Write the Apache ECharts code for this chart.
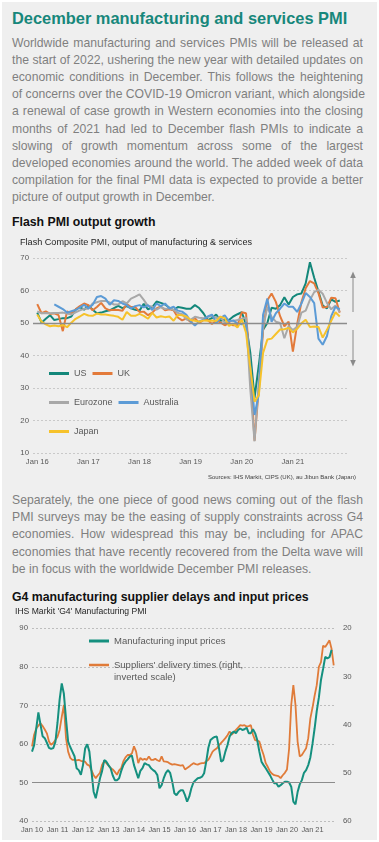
<!DOCTYPE html>
<html><head><meta charset="utf-8">
<script src="https://cdn.jsdelivr.net/npm/echarts@6/dist/echarts.min.js"></script>
<style>
html,body{margin:0;padding:0;background:#fff;width:379px;height:842px;overflow:hidden;font-family:"Liberation Sans",Arial,sans-serif;}
#panel{position:absolute;left:2px;top:2px;width:375px;height:838px;background:#efefef;}
.title{position:absolute;left:12px;top:8px;font-size:16.4px;line-height:20px;font-weight:bold;color:#17877b;white-space:nowrap;}
.para{position:absolute;left:12px;width:351px;font-size:12.2px;color:#7f7f7f;}
.para div{height:17.2px;line-height:17.2px;text-align:justify;text-align-last:justify;white-space:nowrap;}
.para div.last{text-align-last:left;}
.h2{position:absolute;left:12px;font-size:12.3px;line-height:16px;font-weight:bold;color:#111;white-space:nowrap;}
#c1{position:absolute;left:0;top:236px;width:379px;height:250px;}
#c2{position:absolute;left:0;top:603px;width:379px;height:239px;}
</style></head>
<body>
<div id="panel"></div>
<div class="title">December manufacturing and services PMI</div>
<div class="para" style="top:34.7px">
<div>Worldwide manufacturing and services PMIs will be released at</div>
<div>the start of 2022, ushering the new year with detailed updates on</div>
<div>economic conditions in December. This follows the heightening</div>
<div>of concerns over the COVID-19 Omicron variant, which alongside</div>
<div>a renewal of case growth in Western economies into the closing</div>
<div>months of 2021 had led to December flash PMIs to indicate a</div>
<div>slowing of growth momentum across some of the largest</div>
<div>developed economies around the world. The added week of data</div>
<div>compilation for the final PMI data is expected to provide a better</div>
<div class="last">picture of output growth in December.</div>
</div>
<div class="h2" style="top:213.7px">Flash PMI output growth</div>
<div id="c1"></div>
<div class="para" style="top:492px">
<div>Separately, the one piece of good news coming out of the flash</div>
<div>PMI surveys may be the easing of supply constraints across G4</div>
<div>economies. How widespread this may be, including for APAC</div>
<div>economies that have recently recovered from the Delta wave will</div>
<div class="last">be in focus with the worldwide December PMI releases.</div>
</div>
<div class="h2" style="top:589px">G4 manufacturing supplier delays and input prices</div>
<div id="c2"></div>
<script>
// ---------- Chart 1 data: monthly Jan 2016 - Dec 2021 ----------
const yearLabels1 = ['Jan 16','Jan 17','Jan 18','Jan 19','Jan 20','Jan 21'];
const us = [
 53.2,50.1,51.3,52.4,50.9,51.2,51.5,51.5,52.0,54.1,54.9,54.1,
 55.4,54.1,53.0,53.2,53.6,53.9,54.6,55.3,54.6,55.2,54.5,54.1,
 53.8,55.9,54.2,54.9,56.6,56.2,55.7,54.7,53.9,54.9,54.7,54.4,
 54.4,55.5,54.6,53.0,50.9,51.5,52.6,50.7,51.0,50.9,52.0,52.7,
 53.3,49.6,40.9,27.0,37.0,47.9,50.0,54.7,54.4,55.5,57.9,55.7,
 58.0,58.8,59.1,62.2,68.7,63.9,59.7,55.4,54.5,57.3,56.5,56.9];
const uk = [
 55.8,53.0,53.6,52.8,53.0,52.4,47.5,53.6,52.9,54.2,55.2,56.0,
 55.5,53.9,54.9,56.2,54.5,53.9,54.1,54.0,53.8,55.8,54.9,54.9,
 53.4,53.5,52.4,53.2,54.5,55.1,53.9,54.2,53.9,51.7,50.8,51.4,
 50.3,51.5,50.0,50.9,50.9,49.7,50.7,50.2,49.3,50.0,49.3,49.3,
 53.3,53.0,36.0,13.8,30.0,47.7,57.0,59.1,56.5,52.1,49.0,50.4,
 41.2,49.6,56.4,60.7,62.9,62.2,59.2,54.8,54.9,57.8,57.6,53.2];
const eurozone = [
 53.6,53.0,53.1,53.0,53.1,53.1,53.2,52.9,52.6,53.3,53.9,54.4,
 54.4,56.0,56.4,56.8,56.8,56.3,55.7,55.7,56.7,56.0,57.5,58.1,
 58.8,57.1,55.2,55.1,54.1,54.9,54.3,54.5,54.1,53.1,52.7,51.1,
 51.0,51.9,51.6,51.5,51.8,52.2,51.5,51.9,50.1,50.6,50.6,50.9,
 51.3,51.6,29.7,13.6,31.9,48.5,54.9,51.9,50.4,50.0,45.3,49.1,
 47.8,48.8,53.2,53.8,57.1,59.5,60.2,59.0,56.2,54.2,55.4,53.4];
const australia = [
 null,null,null,null,55.7,55.0,54.3,53.2,53.6,54.0,54.8,55.6,
 54.5,55.6,58.0,58.3,57.5,55.6,57.0,56.8,56.0,55.5,54.5,55.2,
 55.5,54.8,55.5,54.0,56.0,55.2,56.0,54.5,55.0,53.8,53.5,52.5,
 50.5,49.2,50.5,51.0,52.0,52.6,50.0,51.5,52.4,50.5,50.8,49.8,
 49.6,50.2,37.0,21.7,28.1,52.5,57.5,50.4,53.0,54.4,56.0,55.0,
 55.0,53.4,56.0,59.2,58.0,56.1,45.2,43.3,46.0,52.1,55.0,54.2];
const japan = [
 52.6,50.4,49.6,49.0,49.2,49.0,49.4,48.7,50.1,51.3,52.0,52.8,
 52.3,52.2,52.9,52.6,52.6,52.4,52.2,51.9,51.0,53.4,52.2,52.2,
 52.8,52.2,51.3,53.1,51.7,52.1,51.8,52.0,50.7,52.5,52.4,52.0,
 50.9,50.7,50.4,50.8,50.7,50.8,50.6,51.9,51.5,49.1,49.8,48.6,
 51.1,47.0,36.2,25.8,27.8,40.8,44.9,45.2,46.6,48.0,48.1,48.5,
 47.1,48.2,49.9,51.0,48.8,48.9,48.8,45.5,47.9,50.7,53.3,52.0];

// ---------- Chart 2 data: monthly Jan 2010 - 2021 ----------
const yearLabels2 = ['Jan 10','Jan 11','Jan 12','Jan 13','Jan 14','Jan 15','Jan 16','Jan 17','Jan 18','Jan 19','Jan 20','Jan 21'];
const inputPrices = [
 58.0,59.7,64.0,68.2,65.0,62.0,61.5,60.3,59.0,58.7,58.9,60.5,
 65.5,71.5,75.7,73.0,66.5,60.6,59.2,58.0,56.8,53.7,53.2,52.0,
 54.5,58.8,59.9,58.0,52.8,47.6,45.9,48.5,51.1,53.0,55.8,55.4,
 54.5,53.7,51.8,50.6,50.6,51.1,53.0,54.5,55.4,56.0,56.7,57.0,
 54.5,52.8,51.1,53.0,53.7,55.0,54.7,54.5,53.7,53.2,52.8,51.9,
 48.5,49.3,51.1,52.5,53.2,52.5,50.2,47.2,46.7,47.5,48.0,48.0,
 46.7,45.0,46.3,48.5,50.0,50.6,51.1,51.2,51.5,52.4,55.4,59.0,
 61.0,61.5,61.8,61.9,58.9,55.4,55.8,58.0,59.7,61.9,62.8,63.2,
 62.8,63.6,64.0,63.6,63.8,64.2,62.8,62.8,63.8,62.8,61.0,58.0,
 55.4,54.5,53.7,52.8,51.9,50.8,49.8,49.8,48.9,49.3,49.8,50.2,
 50.2,50.0,48.9,45.0,44.3,47.5,49.5,50.6,52.5,53.2,54.5,56.5,
 60.0,64.0,68.5,72.0,76.6,79.5,82.6,82.2,82.5,84.4];
const deliveryTimes = [
 44.5,42.1,40.8,40.2,39.7,40.3,41.0,41.8,43.5,44.2,43.8,43.2,
 42.5,41.1,38.4,35.9,42.8,45.6,46.9,47.3,47.3,47.4,47.3,47.5,
 47.6,47.7,48.3,48.5,49.5,50.5,51.1,50.5,50.0,48.3,47.6,48.0,
 48.5,49.0,49.3,49.8,50.4,49.5,49.0,47.6,46.8,46.3,46.3,46.0,
 44.5,45.6,48.0,46.9,47.3,47.1,47.3,46.6,47.3,47.3,47.1,47.4,
 47.6,46.6,47.6,47.7,47.8,48.1,48.3,48.2,48.3,48.4,48.5,48.4,
 49.3,49.0,48.7,48.3,48.0,48.2,48.3,48.1,48.0,48.0,47.6,47.3,
 46.5,45.6,45.2,44.9,44.3,43.8,43.3,42.8,42.2,41.4,42.1,41.6,
 41.1,40.6,40.1,40.2,40.1,40.4,40.3,40.1,42.1,43.2,43.3,43.5,
 45.0,46.3,48.0,48.8,49.7,50.2,50.5,50.6,50.7,51.1,50.5,50.0,
 49.3,45.0,35.9,31.8,35.9,43.5,46.6,46.3,45.6,44.9,42.8,38.7,
 36.5,34.0,31.8,28.0,27.0,23.6,23.9,23.2,22.5,24.3,27.7];

const FONT = 'Liberation Sans';
const pairs = arr => arr.map((v, i) => [i, v]);

// ---------- Chart 1 ----------
const c1 = echarts.init(document.getElementById('c1'), null, {renderer: 'canvas'});
const colors1 = {US:'#13877a', UK:'#e37a3a', Eurozone:'#a8a8a8', Australia:'#5c9bd6', Japan:'#f6c22b'};
function line1(name, data) {
  return {name, type:'line', data: pairs(data), showSymbol:false, symbol:'none',
    connectNulls:false, lineStyle:{width:2, color:colors1[name]}, itemStyle:{color:colors1[name]}, z:3};
}
const legendBase = {padding:0, itemWidth:20, itemHeight:3, icon:'rect', itemGap:6, orient:'horizontal',
  textStyle:{fontFamily:FONT, fontSize:9, color:'#595959', width:45}};
c1.setOption({
  animation:false,
  textStyle:{fontFamily:FONT},
  title:[
    {text:'Flash Composite PMI, output of manufacturing & services', left:20, top:2, padding:0,
     textStyle:{fontFamily:FONT, fontSize:9.1, fontWeight:'normal', color:'#1f1f1f'}},
    {text:'Sources: IHS Markit, CIPS (UK), au Jibun Bank (Japan)', right:23, top:238, padding:0,
     textStyle:{fontFamily:FONT, fontSize:6, fontWeight:'normal', color:'#404040'}}
  ],
  grid:{left:33, right:32, top:22, height:195, containLabel:false},
  legend:[
    Object.assign({}, legendBase, {data:['US','UK'], left:49, top:133}),
    Object.assign({}, legendBase, {data:['Eurozone','Australia'], left:49, top:162}),
    Object.assign({}, legendBase, {data:['Japan'], left:49, top:191})
  ],
  xAxis:{type:'value', min:-1, max:72.7,
    axisLine:{show:false}, axisTick:{show:false}, splitLine:{show:false},
    axisLabel:{customValues:[0,12,24,36,48,60], formatter:v => yearLabels1[Math.round(v/12)],
      fontFamily:FONT, fontSize:7.6, color:'#595959', margin:5}},
  yAxis:{type:'value', min:10, max:70, interval:10,
    axisLine:{show:false}, axisTick:{show:false},
    axisLabel:{fontFamily:FONT, fontSize:7.8, color:'#595959', margin:4},
    splitLine:{lineStyle:{color:'#c9c9c9', type:[2,2], width:1}}},
  graphic:[
    {type:'line', shape:{x1:353, y1:76, x2:353, y2:40}, style:{stroke:'#8a8a8a', lineWidth:1}},
    {type:'polygon', shape:{points:[[350.2,42],[355.8,42],[353,35.5]]}, style:{fill:'#8a8a8a'}},
    {type:'line', shape:{x1:353, y1:94, x2:353, y2:126}, style:{stroke:'#8a8a8a', lineWidth:1}},
    {type:'polygon', shape:{points:[[350.2,124],[355.8,124],[353,130.5]]}, style:{fill:'#8a8a8a'}}
  ],
  series:[
    Object.assign(line1('US', us), {markLine:{silent:true, symbol:'none', label:{show:false},
      lineStyle:{color:'#8c8c8c', type:'solid', width:1.3}, data:[{yAxis:50}]}}),
    line1('UK', uk),
    line1('Eurozone', eurozone),
    line1('Australia', australia),
    line1('Japan', japan)
  ]
});

// ---------- Chart 2 ----------
const c2 = echarts.init(document.getElementById('c2'), null, {renderer: 'canvas'});
const teal = '#15907f', orange = '#e07b39';
c2.setOption({
  animation:false,
  textStyle:{fontFamily:FONT},
  title:{text:"IHS Markit 'G4' Manufacturing PMI", left:15, top:4.5, padding:0,
    textStyle:{fontFamily:FONT, fontSize:8.6, fontWeight:'normal', color:'#1f1f1f'}},
  grid:{left:32, right:44, top:25.3, height:192.7, containLabel:false},
  legend:[
    {data:['Manufacturing input prices'], left:89, top:33, padding:0, itemWidth:20, itemHeight:3, icon:'rect',
     textStyle:{fontFamily:FONT, fontSize:9.5, color:'#595959'}},
    {data:["Suppliers' delivery times (right, inverted scale)"], left:89, top:56, padding:0, itemWidth:20, itemHeight:24,
     icon:'path://M0,0H0.01V0.01H0Z M0,4.8H20V7.2H0Z M0,23.99H0.01V24H0Z',
     formatter: n => n.replace('(right, ', '(right,\n'),
     textStyle:{fontFamily:FONT, fontSize:9.5, color:'#595959', lineHeight:12}}
  ],
  xAxis:{type:'value', min:0, max:142.6,
    axisLine:{show:false}, axisTick:{show:false}, splitLine:{show:false},
    axisLabel:{customValues:[0,12,24,36,48,60,72,84,96,108,120,132], formatter:v => yearLabels2[Math.round(v/12)],
      fontFamily:FONT, fontSize:7.4, color:'#595959', margin:5}},
  yAxis:[
    {type:'value', min:40, max:90, interval:10,
     axisLine:{show:false}, axisTick:{show:false},
     axisLabel:{fontFamily:FONT, fontSize:7.8, color:'#595959', margin:4},
     splitLine:{lineStyle:{color:'#bdbdbd', type:[2,2], width:1}}},
    {type:'value', min:20, max:60, interval:10, inverse:true, position:'right',
     axisLine:{show:false}, axisTick:{show:false}, splitLine:{show:false},
     axisLabel:{fontFamily:FONT, fontSize:7.8, color:'#595959', margin:8}}
  ],
  series:[
    {name:"Suppliers' delivery times (right, inverted scale)", type:'line', yAxisIndex:1, data:pairs(deliveryTimes),
     showSymbol:false, symbol:'none', lineStyle:{width:1.8, color:orange}, itemStyle:{color:orange}, z:3},
    {name:'Manufacturing input prices', type:'line', yAxisIndex:0, data:pairs(inputPrices),
     showSymbol:false, symbol:'none', lineStyle:{width:2, color:teal}, itemStyle:{color:teal}, z:4,
     markLine:{silent:true, symbol:'none', label:{show:false},
       lineStyle:{color:'#8c8c8c', type:'solid', width:1.2}, data:[{yAxis:50}]}}
  ]
});
</script>
</body></html>
